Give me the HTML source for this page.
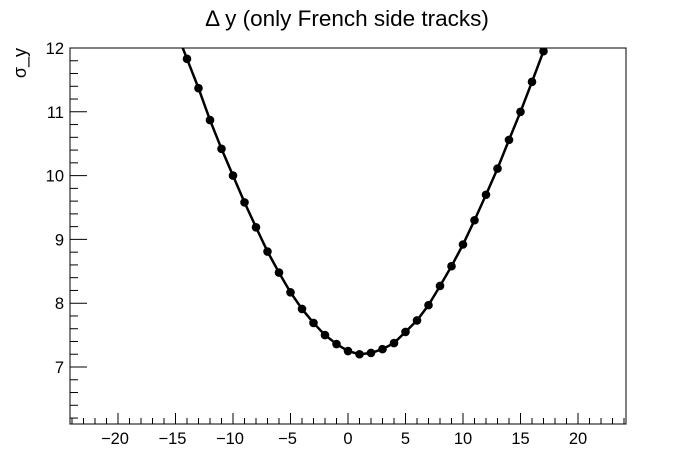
<!DOCTYPE html>
<html><head><meta charset="utf-8"><style>
body{margin:0;background:#fff;}
svg{display:block;font-family:"Liberation Sans",sans-serif;}
</style></head><body>
<svg id="chart" width="696" height="472" viewBox="0 0 696 472" xmlns="http://www.w3.org/2000/svg">
<rect width="696" height="472" fill="#fff"/>
<text x="347" y="26" font-size="22.5" text-anchor="middle">Δ y (only French side tracks)</text>
<text transform="translate(26,48) rotate(-90)" font-size="18" text-anchor="end">σ_y</text>
<defs><clipPath id="fc"><rect x="70" y="48" width="556" height="376"/></clipPath></defs>
<rect x="70" y="48" width="556" height="376" fill="none" stroke="#000" stroke-width="1"/>
<g id="axes"></g>
<g id="series" clip-path="url(#fc)"></g>
</svg>
<script>
const xVals=[-14,-13,-12,-11,-10,-9,-8,-7,-6,-5,-4,-3,-2,-1,0,1,2,3,4,5,6,7,8,9,10,11,12,13,14,15,16,17];
const yVals=[11.83,11.37,10.87,10.42,10.0,9.58,9.19,8.81,8.48,8.17,7.91,7.69,7.5,7.36,7.25,7.2,7.22,7.28,7.375,7.55,7.73,7.97,8.27,8.58,8.92,9.3,9.7,10.11,10.56,11.0,11.47,11.95];
const xTicks=[-20,-15,-10,-5,0,5,10,15,20];
const yTicks=[7,8,9,10,11,12];
const NS="http://www.w3.org/2000/svg";
const X=v=>348+v*11.5;
const Y=v=>367-(v-7)*63.8;
const axes=document.getElementById('axes'),ser=document.getElementById('series');
function mk(tag,a,parent){const e=document.createElementNS(NS,tag);for(const k in a)e.setAttribute(k,a[k]);parent.appendChild(e);return e;}
for(let v=-24;v<=24;v++){const x=X(v);if(x<70||x>626)continue;const major=v%5===0;
const t=mk('line',{x1:x,x2:x,y1:424,y2:major?413:418,stroke:'#000'},axes);

}
xTicks.forEach(v=>{const t=mk('text',{x:X(v)-(v<0?3:0),y:444,'font-size':16.5,'text-anchor':'middle'},axes);t.textContent=(v<0?'\u2212'+(-v):''+v);

});
for(let i=31;i<=60;i++){const v=i/5;const y=Y(v);if(y<47.5||y>424)continue;const major=i%5===0;
const t=mk('line',{x1:70,x2:major?87:78,y1:y,y2:y,stroke:'#000'},axes);

}
yTicks.forEach(v=>{const t=mk('text',{x:64,y:Y(v)+6,'font-size':16.5,'text-anchor':'end'},axes);t.textContent=v;

});
let pts=xVals.map((v,i)=>X(v)+','+Y(yVals[i]));
const s0=(yVals[0]-yVals[1])/(xVals[1]-xVals[0]);
pts.unshift(X(xVals[0]-1)+','+Y(yVals[0]+s0));
const n=xVals.length,s1=(yVals[n-1]-yVals[n-2])/(xVals[n-1]-xVals[n-2]);
pts.push(X(xVals[n-1]+1)+','+Y(yVals[n-1]+s1));
const pl=mk('polyline',{points:pts.join(' '),fill:'none',stroke:'#000','stroke-width':2.5},ser);


xVals.forEach((v,i)=>{const c=mk('circle',{cx:X(v),cy:Y(yVals[i]),r:4.3,fill:'#000'},ser);

});
</script>
</body></html>
